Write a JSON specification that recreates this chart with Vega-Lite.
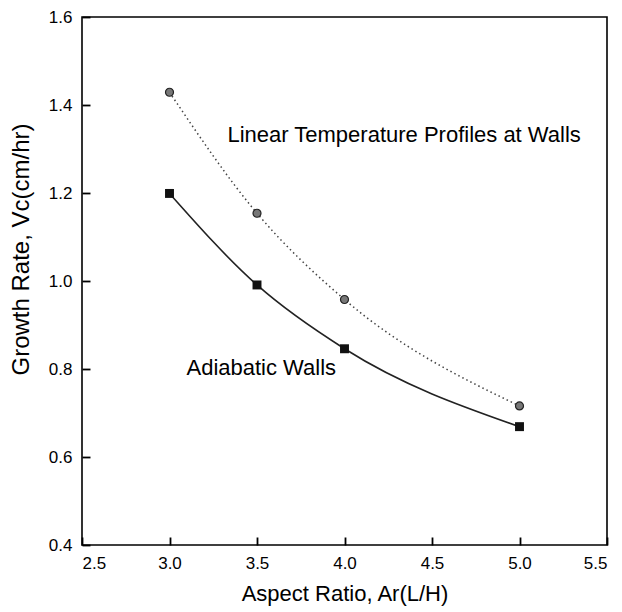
{
  "$schema": "https://vega.github.io/schema/vega-lite/v6.json",
  "width": 525,
  "height": 528,
  "autosize": "none",
  "padding": {"left": 82, "top": 17, "right": 15, "bottom": 67},
  "background": "white",
  "config": {
    "view": {"stroke": "black", "strokeWidth": 1.6},
    "font": "Liberation Sans",
    "axis": {
      "grid": false,
      "domain": false,
      "ticks": true,
      "offset": -8,
      "tickColor": "black",
      "tickSize": 8,
      "tickWidth": 1.8,
      "labelFont": "Liberation Sans",
      "labelFontSize": 17,
      "labelColor": "black",
      "titleFont": "Liberation Sans",
      "titleFontWeight": "normal",
      "titleColor": "black"
    }
  },
  "data": {
    "values": [
      {"ar": 3.0, "v": 1.429, "series": "Linear"},
      {"ar": 3.5, "v": 1.154, "series": "Linear"},
      {"ar": 4.0, "v": 0.958, "series": "Linear"},
      {"ar": 5.0, "v": 0.716, "series": "Linear"},
      {"ar": 3.0, "v": 1.199, "series": "Adiabatic"},
      {"ar": 3.5, "v": 0.991, "series": "Adiabatic"},
      {"ar": 4.0, "v": 0.846, "series": "Adiabatic"},
      {"ar": 5.0, "v": 0.669, "series": "Adiabatic"}
    ]
  },
  "encoding": {
    "x": {
      "field": "ar", "type": "quantitative",
      "scale": {"domain": [2.5, 5.5], "nice": false, "zero": false},
      "axis": {"values": [2.5, 3.0, 3.5, 4.0, 4.5, 5.0, 5.5], "format": ".1f", "labelPadding": 10, "title": "Aspect Ratio, Ar(L/H)", "titleFontSize": 22, "titlePadding": 12}
    },
    "y": {
      "field": "v", "type": "quantitative",
      "scale": {"domain": [0.4, 1.6], "nice": false, "zero": false},
      "axis": {"values": [0.4, 0.6, 0.8, 1.0, 1.2, 1.4, 1.6], "format": ".1f", "labelPadding": 10, "title": "Growth Rate, Vc(cm/hr)", "titleFontSize": 24, "titleX": -69, "titleY": 232, "titleAngle": -90, "titleAlign": "center", "titleBaseline": "middle"}
    }
  },
  "layer": [
    {
      "transform": [{"filter": "datum.series === 'Linear'"}],
      "mark": {"type": "line", "interpolate": "monotone", "color": "#444", "strokeWidth": 1.5, "strokeDash": [1.5, 3]}
    },
    {
      "transform": [{"filter": "datum.series === 'Adiabatic'"}],
      "mark": {"type": "line", "interpolate": "monotone", "color": "#222", "strokeWidth": 1.6}
    },
    {
      "transform": [{"filter": "datum.series === 'Linear'"}],
      "mark": {"type": "point", "shape": "circle", "filled": true, "fill": "#777", "stroke": "#222", "strokeWidth": 1.2, "size": 64, "opacity": 1}
    },
    {
      "transform": [{"filter": "datum.series === 'Adiabatic'"}],
      "mark": {"type": "point", "shape": "square", "filled": true, "fill": "#111", "size": 80, "opacity": 1}
    },
    {
      "data": {"values": [
        {"ar": 3.331, "v": 1.316, "label": "Linear Temperature Profiles at Walls"},
        {"ar": 3.097, "v": 0.786, "label": "Adiabatic Walls"}
      ]},
      "mark": {"type": "text", "align": "left", "baseline": "alphabetic", "fontSize": 22, "color": "black", "font": "Liberation Sans"},
      "encoding": {"text": {"field": "label"}}
    }
  ]
}
